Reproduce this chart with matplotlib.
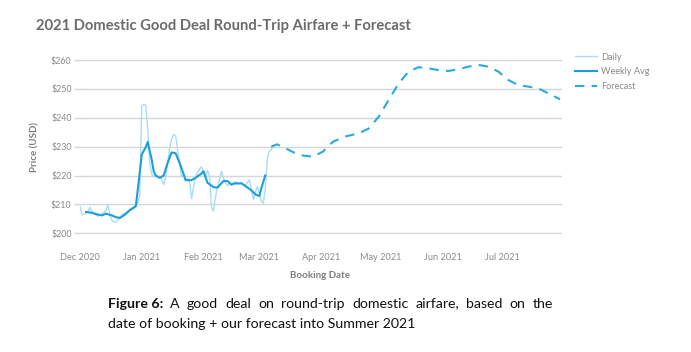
import matplotlib
matplotlib.use("Agg")
import matplotlib.pyplot as plt
import matplotlib.dates as mdates
import pandas as pd

# ---------------- data ----------------
daily_start = "2020-12-01"
daily_values = [
    209.3, 206.4, 206.6, 206.8, 207.7, 209.0, 207.5, 206.8, 206.3, 206.0,
    206.2, 206.8, 207.2, 208.0, 209.8, 206.5, 204.5, 204.0, 203.9, 204.5,
    205.5, 206.3, 206.8, 207.2, 207.7, 208.2, 208.8, 209.2, 210.0, 210.4,
    213.0, 244.0, 244.6, 244.4, 236.0, 224.5, 220.5, 219.6, 219.6, 219.8,
    219.8, 218.7, 216.9, 219.5, 224.0, 229.6, 232.5, 234.2, 233.8, 229.0,
    224.0, 219.5, 220.4, 218.8, 219.0, 218.0, 212.0, 216.0, 219.5, 221.0,
    222.2, 223.0, 221.5, 219.5, 221.8, 220.0, 209.0, 207.7, 212.5, 216.0,
    218.5, 221.5, 219.2, 217.5, 216.4, 217.5, 216.6, 217.5, 217.8, 216.9,
    217.2, 217.5, 216.8, 216.5, 217.5, 218.5, 215.5, 211.7, 214.0, 216.2,
    214.0, 211.0, 210.5, 215.0, 225.5, 228.5, 229.0, 230.4,
]

weekly_dates = [
    "2020-12-04", "2020-12-07", "2020-12-10", "2020-12-12", "2020-12-14",
    "2020-12-17", "2020-12-19", "2020-12-21", "2020-12-24", "2020-12-26",
    "2020-12-29", "2020-12-30", "2021-01-01", "2021-01-03", "2021-01-04",
    "2021-01-06", "2021-01-07", "2021-01-08", "2021-01-10", "2021-01-12",
    "2021-01-14", "2021-01-16", "2021-01-18", "2021-01-20", "2021-01-22",
    "2021-01-23", "2021-01-26", "2021-01-28", "2021-01-31", "2021-02-01",
    "2021-02-03", "2021-02-06", "2021-02-08", "2021-02-11", "2021-02-13",
    "2021-02-15", "2021-02-17", "2021-02-20", "2021-02-22", "2021-02-25",
    "2021-02-27", "2021-03-01", "2021-03-02", "2021-03-04",
]
weekly_values = [
    207.4, 207.1, 206.5, 206.2, 206.8,
    206.2, 205.6, 205.3, 206.7, 208.0,
    209.3, 215.0, 227.3, 229.8, 231.6,
    225.5, 221.5, 220.0, 219.2, 220.0,
    224.4, 228.0, 227.7, 224.4, 220.5,
    218.4, 218.4, 219.2, 220.7, 221.5,
    217.5, 216.0, 215.8, 218.1, 218.1,
    216.9, 217.3, 217.3, 216.4, 214.9,
    213.5, 212.9, 215.5, 220.0,
]

forecast_dates = [
    "2021-03-07", "2021-03-10", "2021-03-16", "2021-03-21", "2021-03-28",
    "2021-04-02", "2021-04-07", "2021-04-13", "2021-04-20", "2021-04-25",
    "2021-04-30", "2021-05-05", "2021-05-10", "2021-05-15", "2021-05-20",
    "2021-05-25", "2021-05-30", "2021-06-04", "2021-06-09", "2021-06-14",
    "2021-06-19", "2021-06-24", "2021-06-29", "2021-07-04", "2021-07-09",
    "2021-07-14", "2021-07-19", "2021-07-24", "2021-07-30",
]
forecast_values = [
    230.0, 230.8, 228.8, 227.1, 226.5,
    228.3, 231.7, 233.5, 234.6, 236.3,
    240.4, 246.2, 251.9, 256.0, 257.5,
    257.1, 256.5, 256.2, 256.8, 257.7,
    258.3, 257.7, 256.0, 253.1, 251.3,
    250.8, 250.2, 248.5, 246.4,
]

y_ticks = [200, 210, 220, 230, 240, 250, 260]
series_labels = ["Daily", "Weekly Avg", "Forecast"]

title = "2021 Domestic Good Deal Round-Trip Airfare + Forecast"
x_label = "Booking Date"
y_label = "Price (USD)"
caption_bold = "Figure 6:"
caption_line1 = "A good deal on round-trip domestic airfare, based on the"
caption_line2 = "date of booking + our forecast into Summer 2021"

# ---------------- style ----------------
FONT = ["Lato", "DejaVu Sans"]
plt.rcParams["font.family"] = FONT
W, H = 691, 352
C_DAILY = "#aadcf3"
C_WEEK = "#1b9fdb"
C_FC = "#2aa9e0"
C_GRID = "#d6d6d6"
C_TICK = "#8a8a8a"

fig = plt.figure(figsize=(W / 100, H / 100), dpi=100)
fig.patch.set_facecolor("white")

ax_left, ax_right = 80, 562
ax_top, ax_bot = 60, 233.3
pad_px = 0.9
ax = fig.add_axes([ax_left / W, (H - ax_bot - pad_px) / H,
                   (ax_right - ax_left) / W, (ax_bot - ax_top + 2 * pad_px) / H])

daily_dates = pd.date_range(daily_start, periods=len(daily_values), freq="D")
ax.plot(daily_dates, daily_values, color=C_DAILY, lw=1.0, label=series_labels[0],
        solid_joinstyle="round", zorder=3)
ax.plot(pd.to_datetime(weekly_dates), weekly_values, color=C_WEEK, lw=1.5,
        label=series_labels[1], solid_joinstyle="round", zorder=4)
ax.plot(pd.to_datetime(forecast_dates), forecast_values, color=C_FC, lw=1.5,
        ls=(0, (4.5, 3.5)), label=series_labels[2], zorder=4)

span = (260 - 200) / (ax_bot - ax_top)
ax.set_ylim(200 - pad_px * span, 260 + pad_px * span)
ax.set_xlim(pd.Timestamp("2020-12-01"), pd.Timestamp("2021-07-31"))

ax.set_yticks(y_ticks)
ax.set_yticklabels([f"${v}" for v in y_ticks])
ax.xaxis.set_major_locator(mdates.MonthLocator())
ax.xaxis.set_major_formatter(mdates.DateFormatter("%b %Y"))

for s in ax.spines.values():
    s.set_visible(False)
ax.grid(axis="y", color=C_GRID, lw=1.0, zorder=0)
ax.grid(axis="x", visible=False)
ax.tick_params(axis="y", length=4.5, width=1.0, color=C_GRID, pad=1.5,
               labelsize=6.4, labelcolor=C_TICK)
ax.tick_params(axis="x", length=0, pad=13.5, labelsize=6.6, labelcolor=C_TICK)
ax.set_facecolor("white")

# legend
leg = ax.legend(loc="upper left", bbox_to_anchor=(575 / W, (H - 52.5) / H),
                bbox_transform=fig.transFigure, frameon=False, fontsize=6.6,
                handlelength=2.4, handletextpad=0.45, labelspacing=0.62,
                borderpad=0, borderaxespad=0)
for t in leg.get_texts():
    t.set_color(C_TICK)

# texts
fig.text(36 / W, (H - 26) / H, title, ha="left", va="center", fontsize=10.6,
         fontweight="bold", color="#6b6b6b")
fig.text(35 / W, (H - 147) / H, y_label, rotation=90, ha="center", va="center",
         fontsize=7, fontweight="bold", color="#7d7d7d")
fig.text(320 / W, (H - 275) / H, x_label, ha="center", va="center",
         fontsize=7, fontweight="bold", color="#7d7d7d")

# caption (first line justified between x=108 and x=553)
cap_size = 10.2
cap_color = "#111111"
fig.canvas.draw()
r = fig.canvas.get_renderer()
words = [(caption_bold, "bold")] + [(w, "normal") for w in caption_line1.split()]
objs = []
for w, fw in words:
    t = fig.text(0, (H - 303.5) / H, w, ha="left", va="center", fontsize=cap_size,
                 fontweight=fw, color=cap_color)
    objs.append(t)
widths = [t.get_window_extent(r).width for t in objs]
x0, x1 = 108, 553
gap = (x1 - x0 - sum(widths)) / (len(objs) - 1)
x = x0
for t, wd in zip(objs, widths):
    t.set_x(x / W)
    x += wd + gap
fig.text(x0 / W, (H - 323.5) / H, caption_line2, ha="left", va="center",
         fontsize=cap_size, color=cap_color)

fig.savefig("out.png", dpi=100, facecolor="white")
